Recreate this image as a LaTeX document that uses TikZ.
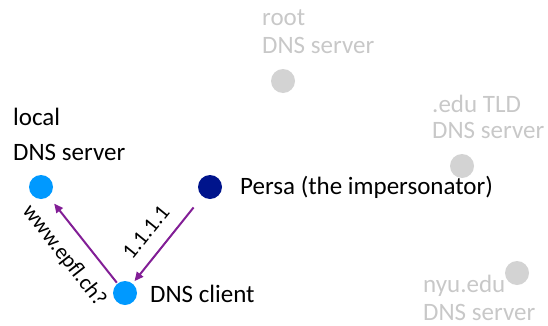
\documentclass[tikz,border=0pt]{standalone}
\usepackage{fontspec}
\setmainfont{Carlito}
\usetikzlibrary{arrows.meta}
\definecolor{hostblue}{RGB}{0,153,255}
\definecolor{attacker}{RGB}{0,20,140}
\definecolor{fadedot}{RGB}{211,211,211}
\definecolor{fadetext}{RGB}{200,200,200}
\definecolor{msg}{RGB}{130,30,150}
\tikzset{
  host/.style={circle, fill=#1, inner sep=0pt, minimum size=24pt},
  lbl/.style={anchor=base west, inner sep=0pt, font=\fontsize{25}{30}\selectfont},
  faded/.style={lbl, text=fadetext},
  msgarrow/.style={draw=msg, line width=2pt, -{Triangle[length=9pt,width=8pt]}},
  msglabel/.style={inner sep=0pt, font=\fontsize{22}{26}\selectfont}
}
\begin{document}
\begin{tikzpicture}[x=1pt,y=1pt]
\useasboundingbox (0,0) rectangle (548,325);

% servers in the resolution chain (not involved here)
\node[host=fadedot] (root) at (283,244) {};
\node[host=fadedot] (tld)  at (462,159) {};
\node[host=fadedot] (auth) at (517,52) {};
\node[faded] (rootA) at (262,300) {root};
\node[faded] (rootB) at (262,272) {DNS server};
\node[faded] (tldA)  at (432,213) {.edu TLD};
\node[faded] (tldB)  at (432,187) {DNS server};
\node[faded] (authA) at (423,33) {nyu.edu};
\node[faded] (authB) at (423,5)  {DNS server};

% active hosts
\node[host=hostblue] (local)  at (41,138) {};
\node[host=attacker] (persa)  at (210,138) {};
\node[host=hostblue] (client) at (125,32) {};
\node[lbl] (localA) at (13,200) {local};
\node[lbl] (localB) at (13,165) {DNS server};
\node[lbl] (persaT) at (240,131) {Persa (the impersonator)};
\node[lbl] (clientT) at (150,23) {DNS client};

% query and forged answer
\draw[msgarrow, shorten <=1pt, shorten >=9pt] (client) -- (local);
\draw[msgarrow, shorten <=14pt, shorten >=3pt] (persa) -- (client);
\node[msglabel, rotate=-52] (q) at (64,69) {www.epfl.ch?};
\node[msglabel, rotate=51] (a) at (146,93) {1.1.1.1};
\end{tikzpicture}
\end{document}
